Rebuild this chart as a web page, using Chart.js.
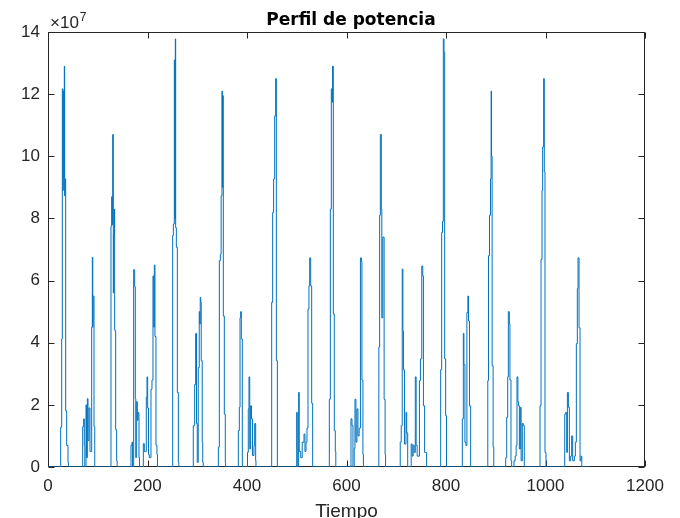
<!DOCTYPE html>
<html>
<head>
<meta charset="utf-8">
<script src="https://cdn.jsdelivr.net/npm/chart.js@4.4.0/dist/chart.umd.min.js"></script>
<style>
  html, body { margin: 0; padding: 0; background: #fff; }
</style>
</head>
<body>
<canvas id="potencia" width="680" height="518"></canvas>
<script>
// Tiempo and potencia (x 1e7), one burst per line
const tiempo = [
  0,
  24, 25.5, 27.5, 28.8, 30, 30.8, 32, 32.8, 33.5, 34.2, 35.5, 37.5, 40.2, 41,
  69, 69.7, 71.7, 73, 74, 76.4, 77.5, 79.1, 80.4, 82.4, 84.4, 87.8, 89.1, 90, 90.4, 92.5, 94,
  125.5, 126.6, 128, 129, 130, 131.3, 132, 133.3, 134, 136, 138, 139,
  166, 166.8, 168.8, 170, 172.2, 174.2, 175.5, 176.5, 177.5, 179.6, 180.9, 182.9, 184,
  190.5, 191.6, 193.6, 195.6, 197.6, 199, 200.3, 202, 203.7, 207, 209, 211, 212.5, 213.7, 215, 217, 219, 220,
  249.5, 250.6, 252, 253.9, 255, 255.9, 256.6, 258, 260, 262, 263,
  291, 292, 294.8, 296.8, 298.5, 300, 302, 304, 305, 306, 307, 308, 310, 311, 312,
  341.5, 342.4, 344.4, 346.4, 348, 349.7, 350.5, 351, 352.4, 354.4, 356.4, 357,
  381.5, 382.6, 384.6, 386, 387.3, 388.6, 390.6, 399, 401, 402.6, 404, 405.5, 407.3, 409, 411, 414, 415.4, 417.4, 418,
  448.5, 449.6, 451.6, 453.5, 455.6, 457.6, 459, 461,
  497.5, 499.9, 501, 502, 503.8, 505, 508, 511, 514.6, 516.5, 518.5, 520.6, 522.6, 524.5, 526, 528, 530, 532,
  564.5, 565.5, 567.5, 569.5, 571, 572, 573.5, 575.5, 577.5, 578.5,
  608, 609, 611, 613, 615.5, 617, 619, 621, 623, 625.5, 628, 630, 631, 633, 634,
  664, 665, 666.6, 668, 670, 671, 673, 675.6, 677.6, 678.5,
  705, 708, 710, 712, 713.4, 714.5, 716.5, 719.6, 721, 723, 730, 732, 734, 736, 738.3, 740, 742, 746.6, 748.6, 751.3, 753.3, 754.6, 757, 759.6, 761,
  788.5, 789.3, 791.3, 793, 794.6, 796, 797.3, 799.3, 801,
  832, 832.8, 834.8, 836, 838, 840, 842, 844, 845.3, 847.3, 849.5,
  883, 884, 885.4, 887.4, 889.4, 890.7, 891.5, 892.7, 894.7, 896,
  919, 920, 922, 924, 925.3, 927.3, 928.5, 930.6, 932, 936.7, 939, 941, 942.7, 944.5, 945.8, 947.5, 949.4, 951, 953.4, 955.4, 957.4,
  988, 989, 991, 993, 994.3, 996.3, 997.6, 999, 1001,
  1036, 1038.6, 1040.6, 1042.6, 1044, 1046, 1048, 1050.6, 1052.6, 1054.6, 1058, 1060, 1062, 1064, 1065.4, 1067.4, 1069.4, 1071.4, 1073,
  1088
];
const potencia = [
  0,
  0, 1.28, 4.12, 12.17, 8.9, 12.1, 9.3, 12.9, 8.73, 9.27, 1.81, 0.69, 0.15, 0,
  0, 1.3, 1.55, 0.7, 0, 2.0, 0.3, 2.2, 0.85, 1.9, 0.5, 4.5, 6.75, 4.5, 5.5, 1.3, 0,
  0, 7.75, 8.7, 7.8, 10.7, 5.6, 7.5, 8.3, 4.4, 1.2, 0.2, 0,
  0, 0.7, 0.8, 0, 6.35, 5.8, 2.2, 0.3, 2.1, 1.5, 1.75, 0.3, 0,
  0, 0.75, 0.5, 0.5, 2.25, 2.9, 1.9, 0.4, 0.3, 2.5, 2.8, 6.15, 4.5, 6.5, 4.2, 0.7, 0.4, 0,
  0, 7.45, 7.82, 13.1, 8.0, 13.78, 7.7, 7.07, 2.4, 0.15, 0,
  0, 1.33, 2.66, 4.3, 1.4, 0.15, 3.2, 5.0, 4.6, 5.46, 5.3, 3.42, 0.8, 0.15, 0,
  0, 0.64, 6.64, 6.85, 8.73, 12.1, 9.0, 11.95, 4.86, 1.7, 0.15, 0,
  0, 1.17, 1.92, 4.8, 5.0, 4.12, 0, 0, 0.47, 1.87, 2.9, 0.58, 1.97, 1.55, 0.37, 0.69, 1.4, 0.2, 0,
  0, 5.3, 8.19, 9.27, 11.3, 12.5, 3.42, 0,
  0, 1.76, 0.6, 0, 2.4, 0.5, 0.3, 0.8, 1.06, 0.5, 0.8, 1.25, 5.08, 5.83, 6.73, 5.83, 2.05, 0,
  0, 2.18, 8.3, 12.17, 11.74, 12.9, 4.92, 1.17, 0.5, 0,
  0, 1.55, 1.33, 0, 0.6, 2.18, 0.8, 1.87, 1.0, 1.25, 6.73, 6.62, 2.8, 0.4, 0,
  0, 3.86, 8.1, 10.7, 8.3, 4.8, 7.4, 2.18, 0.4, 0,
  0, 0.8, 1.33, 6.37, 4.37, 3.13, 0.74, 1.76, 1.1, 0, 0.74, 0.35, 0.7, 0.47, 2.9, 0.7, 0.35, 2.78, 3.48, 6.47, 6.15, 1.97, 0.47, 0.47, 0,
  0, 3.13, 7.55, 7.9, 13.78, 13.35, 3.48, 1.65, 0,
  0, 1.55, 4.3, 3.3, 0.8, 0.69, 4.97, 5.5, 4.7, 1.97, 0,
  0, 2.78, 6.8, 8.1, 9.27, 12.1, 10.0, 3.26, 0.64, 0,
  0, 0.3, 1.6, 2.9, 5.0, 4.6, 2.8, 0.2, 0, 0.2, 0.35, 0.69, 2.9, 2.1, 1.97, 0.58, 1.92, 0.2, 1.4, 1.33, 0,
  0, 1.97, 6.68, 8.9, 10.3, 12.5, 9.5, 0.47, 0,
  0, 1.7, 1.76, 0.47, 2.4, 1.92, 0.2, 0.35, 1.0, 0.2, 0.35, 0.8, 3.97, 5.74, 6.73, 4.48, 0.2, 0.35, 0,
  0
];
const xTicks = [0, 200, 400, 600, 800, 1000, 1200];
const yTicks = [0, 2, 4, 6, 8, 10, 12, 14];
const exponente = 7;
const titulo = 'Perfil de potencia';

const textColor = '#262626';
const sans = "'Liberation Sans', Arial, sans-serif";

// box + inward ticks on all four sides, title and the x10^7 label
const matlabAxes = {
  id: 'matlabAxes',
  beforeDatasetsDraw(chart) {
    const {ctx, chartArea: a, scales: {x, y}} = chart;
    const L = a.left + 0.5, R = a.right - 0.5, T = a.top + 0.5, B = a.bottom - 0.5;
    ctx.save();
    ctx.strokeStyle = textColor;
    ctx.lineWidth = 1;
    ctx.strokeRect(L, T, R - L, B - T);
    ctx.beginPath();
    xTicks.forEach(v => {
      const px = Math.round(x.getPixelForValue(v)) + 0.5;
      ctx.moveTo(px, B); ctx.lineTo(px, B - 6);
      ctx.moveTo(px, T); ctx.lineTo(px, T + 6);
    });
    yTicks.forEach(v => {
      const py = Math.round(y.getPixelForValue(v)) + 0.5;
      ctx.moveTo(L, py); ctx.lineTo(L + 6, py);
      ctx.moveTo(R, py); ctx.lineTo(R - 6, py);
    });
    ctx.stroke();
    ctx.restore();
  },
  afterDraw(chart) {
    const {ctx, chartArea: a} = chart;
    ctx.save();
    ctx.textBaseline = 'alphabetic';
    ctx.fillStyle = '#000';
    ctx.textAlign = 'center';
    ctx.font = "bold 17px 'DejaVu Sans', sans-serif";
    ctx.fillText(titulo, 351, 25);
    ctx.fillStyle = textColor;
    ctx.textAlign = 'left';
    ctx.font = '17px ' + sans;
    ctx.fillText('\u00d710', a.left + 2, a.top - 4);
    const w = ctx.measureText('\u00d710').width;
    ctx.font = '12px ' + sans;
    ctx.fillText(String(exponente), a.left + 2 + w + 1, a.top - 11);
    ctx.restore();
  }
};

new Chart(document.getElementById('potencia'), {
  type: 'line',
  data: {
    datasets: [{
      data: tiempo.map((t, i) => ({x: t, y: potencia[i]})),
      borderColor: '#0072BD',
      borderWidth: 1,
      pointRadius: 0,
      stepped: true,
      fill: false
    }]
  },
  options: {
    responsive: false,
    animation: false,
    layout: { padding: { left: 0, right: 35, top: 32, bottom: 0 } },
    plugins: {
      legend: { display: false },
      tooltip: { enabled: false },
      title: { display: false }
    },
    scales: {
      x: {
        type: 'linear',
        min: 0,
        max: 1200,
        afterBuildTicks: s => { s.ticks = xTicks.map(v => ({value: v})); },
        afterFit: s => { s.height = 51; },
        grid: { display: false, drawTicks: false },
        border: { display: false },
        ticks: {
          color: textColor, padding: 9, maxRotation: 0,
          font: { family: sans, size: 17 },
          callback: v => String(v)
        },
        title: {
          display: true,
          text: 'Tiempo',
          color: textColor,
          font: { family: sans, size: 19, lineHeight: 1 },
          padding: { top: 0, bottom: -3 }
        }
      },
      y: {
        min: 0,
        max: 14,
        afterBuildTicks: s => { s.ticks = yTicks.map(v => ({value: v})); },
        afterFit: s => { s.width = 48; },
        grid: { display: false, drawTicks: false },
        border: { display: false },
        ticks: {
          color: textColor, padding: 8,
          font: { family: sans, size: 17 },
          callback: v => String(v)
        }
      }
    }
  },
  plugins: [matlabAxes]
});
</script>
</body>
</html>
